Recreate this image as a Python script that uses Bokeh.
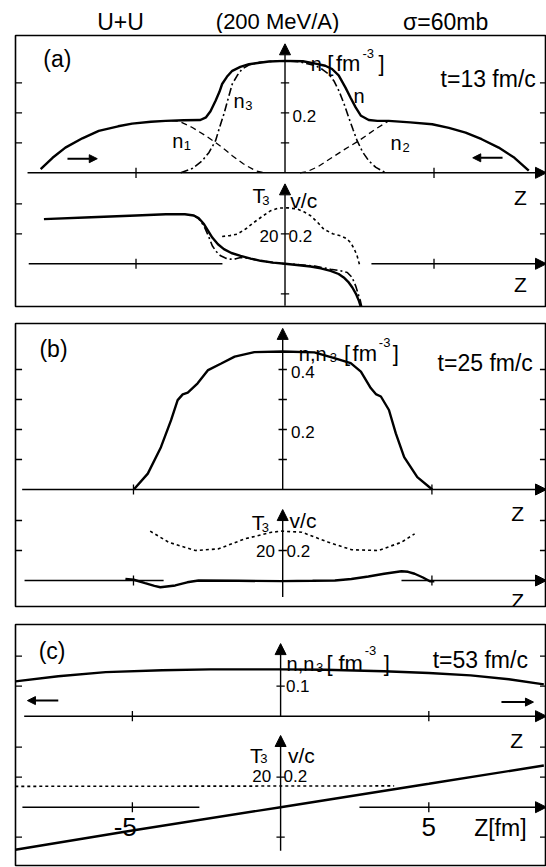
from bokeh.plotting import figure
from bokeh.models import Range1d, Label, Arrow, NormalHead
from bokeh.layouts import column
from bokeh.embed import file_html
from bokeh.resources import INLINE

FONT = "Liberation Sans"

# ---------------- data : panel (a)  t = 13 fm/c ----------------
za_n = [-8.2, -7.8, -7.37, -6.8, -6.25, -5.6, -5.13, -4.5, -4.01, -3.4, -2.84, -2.65, -2.5,
        -2.33, -2.2, -2.11, -1.95, -1.77, -1.5, -1.21, -0.54, 0.0, 0.6, 1.02, 1.35, 1.58, 1.8,
        2.03, 2.2, 2.37, 2.55, 2.81, 3.1, 3.48, 4.2, 4.94, 5.5, 6.06, 6.6, 7.17, 7.7, 8.18]
na_n = [0.012, 0.05, 0.084, 0.115, 0.14, 0.155, 0.164, 0.17, 0.173, 0.175, 0.176, 0.185, 0.205,
        0.24, 0.27, 0.296, 0.32, 0.34, 0.353, 0.362, 0.371, 0.373, 0.372, 0.364, 0.357, 0.346, 0.325,
        0.284, 0.25, 0.218, 0.19, 0.176, 0.173, 0.173, 0.168, 0.162, 0.15, 0.134, 0.112, 0.084, 0.05, 0.007]
za_n3 = [-3.5, -3.1, -2.78, -2.55, -2.33, -2.2, -2.05, -1.9, -1.77, -1.6, -1.44, -1.2, -0.88, -0.4,
         0.0, 0.5, 1.02, 1.25, 1.47, 1.65, 1.81, 1.98, 2.14, 2.28, 2.42, 2.6, 2.81, 3.05, 3.37]
na_n3 = [0.0, 0.015, 0.04, 0.068, 0.107, 0.15, 0.196, 0.25, 0.296, 0.325, 0.346, 0.36, 0.368, 0.372,
         0.373, 0.37, 0.357, 0.345, 0.329, 0.305, 0.273, 0.23, 0.184, 0.145, 0.107, 0.07, 0.04, 0.018, 0.0]
za_n1 = [-3.8, -3.56, -3.11, -2.7, -2.33, -2.0, -1.77, -1.4, -0.99, -0.7]
na_n1 = [0.174, 0.172, 0.151, 0.126, 0.101, 0.076, 0.057, 0.03, 0.007, 0.0]
za_n2 = [0.5, 0.74, 1.1, 1.58, 2.0, 2.48, 3.04, 3.48, 3.7]
na_n2 = [0.0, 0.004, 0.02, 0.051, 0.078, 0.107, 0.146, 0.173, 0.174]
za_v = [-8.09, -6.5, -5.0, -4.0, -3.36, -3.06, -2.9, -2.72, -2.58, -2.44, -2.25, -2.05, -1.8, -1.49,
        -1.15, -0.82, -0.4, 0.0, 0.4, 0.86, 1.2, 1.53, 1.8, 1.97, 2.12, 2.26, 2.38, 2.48, 2.55]
va_v = [0.298, 0.31, 0.322, 0.33, 0.33, 0.322, 0.305, 0.265, 0.22, 0.175, 0.13, 0.098, 0.072, 0.053,
        0.035, 0.02, 0.008, 0.0, -0.008, -0.018, -0.03, -0.047, -0.068, -0.091, -0.12, -0.158, -0.2, -0.247, -0.29]
za_v3 = [-3.06, -2.9, -2.72, -2.58, -2.44, -2.3, -2.16, -2.0, -1.83, -1.65, -1.49, -1.2, -0.82,
         -0.4, 0.0, 0.5, 1.0, 1.53, 1.85, 2.09, 2.25, 2.37, 2.47, 2.53, 2.58]
va_v3 = [0.322, 0.3, 0.253, 0.19, 0.12, 0.08, 0.053, 0.038, 0.031, 0.033, 0.042, 0.035, 0.02,
         0.008, 0.0, -0.006, -0.015, -0.036, -0.046, -0.058, -0.09, -0.147, -0.21, -0.247, -0.29]
za_T = [-2.11, -1.85, -1.6, -1.3, -1.05, -0.75, -0.49, -0.2, 0.1, 0.41, 0.65, 0.86, 1.1, 1.3,
        1.6, 1.86, 2.05, 2.2, 2.32, 2.42, 2.51]
Ta_T = [18.2, 18.8, 19.8, 23.5, 27.5, 31.8, 35.3, 37.2, 37.3, 36.5, 34.5, 32.0, 27.5, 23.1,
        20.0, 18.7, 17.0, 14.2, 10.0, 5.3, -1.3]

# ---------------- data : panel (b)  t = 25 fm/c ----------------
zb_n = [-4.99, -4.52, -4.08, -3.74, -3.52, -3.35, -3.18, -2.85, -2.5, -2.06, -1.61, -0.95, 0.0,
        1.06, 1.73, 2.28, 2.62, 2.95, 3.12, 3.29, 3.56, 3.79, 4.07, 4.51, 5.01]
nb_n = [0.0, 0.053, 0.141, 0.231, 0.298, 0.317, 0.323, 0.354, 0.398, 0.42, 0.443, 0.458, 0.46,
        0.457, 0.438, 0.421, 0.393, 0.338, 0.318, 0.31, 0.265, 0.187, 0.108, 0.041, 0.0]
zb_v = [-5.27, -4.99, -4.61, -4.3, -4.1, -3.6, -3.2, -2.82, -1.5, -0.03, 1.0, 1.75, 2.3, 2.87,
        3.4, 3.98, 4.2, 4.42, 4.7, 4.93, 5.08]
vb_v = [0.011, 0.005, -0.018, -0.036, -0.045, -0.033, -0.012, 0.0, -0.002, -0.004, -0.002, 0.0,
        0.01, 0.027, 0.045, 0.062, 0.058, 0.045, 0.02, -0.005, -0.005]
zb_T = [-4.44, -3.82, -2.93, -2.15, -1.26, -0.37, -0.03, 0.64, 1.53, 2.31, 3.2, 3.98, 4.42]
Tb_T = [32.9, 25.5, 20.0, 21.1, 27.8, 32.2, 32.9, 32.2, 25.5, 20.5, 20.0, 25.5, 31.1]

# ---------------- data : panel (c)  t = 53 fm/c ----------------
zc_n = [-8.95, -7.5, -5.9, -4.0, -2.38, 0.0, 1.5, 3.48, 5.0, 6.41, 7.7, 8.88]
nc_n = [0.116, 0.133, 0.147, 0.153, 0.156, 0.156, 0.155, 0.150, 0.144, 0.136, 0.123, 0.106]
zc_v = [-8.95, -5.0, 0.0, 5.0, 8.88]
vc_v = [-0.284, -0.155, 0.0, 0.156, 0.278]
zc_T = [-8.95, -4.0, 0.0, 3.83]
Tc_T = [13.9, 14.0, 14.1, 14.2]

Z_TICKS = [-5, 5]


def lab(p, text, x, y, size, align="left", base="middle", rng="default"):
    p.add_layout(Label(x=x, y=y, text=text, text_font=FONT, text_font_size=f"{size}px",
                       text_align=align, text_baseline=base, text_color="black",
                       y_range_name=rng))


def arrow(p, x0, y0, x1, y1, rng="default", size=11, lw=1.4):
    p.add_layout(Arrow(end=NormalHead(size=size, fill_color="black", line_color="black", line_width=1),
                       x_start=x0, y_start=y0, x_end=x1, y_end=y1, line_width=lw,
                       line_color="black", y_range_name=rng))


def panel(height, bleft, btop, bbot, xr, dr, vr):
    p = figure(width=546, height=height, output_backend="svg", toolbar_location=None,
               x_range=Range1d(xr[0], xr[1]), y_range=Range1d(dr[0], dr[1]),
               x_axis_location=None, y_axis_location=None,
               min_border_left=bleft, min_border_right=0, min_border_top=btop, min_border_bottom=bbot)
    p.extra_y_ranges = {"vel": Range1d(vr[0], vr[1]), "T": Range1d(vr[0] * 100, vr[1] * 100)}
    p.grid.visible = False
    p.outline_line_color = "black"
    p.outline_line_width = 1.6
    p.background_fill_color = "white"
    p.border_fill_color = "white"
    return p


def axes(p, xr, up_start, up_tip, low_left, low_right, v_tip, v_bot,
         dens_c, vel_c, dens_e, vel_e):
    arrow(p, up_start, 0, xr[1], 0)
    arrow(p, 0, 0, 0, up_tip)
    p.segment(x0=Z_TICKS, y0=[-0.017] * 2, x1=Z_TICKS, y1=[0.017] * 2, line_color="black", line_width=1.3)
    p.segment(x0=[-0.14] * len(dens_c), y0=dens_c, x1=[0.14] * len(dens_c), y1=dens_c,
              line_color="black", line_width=1.3)
    p.segment(x0=[low_left[0]], y0=[0], x1=[low_left[1]], y1=[0], line_color="black",
              line_width=1.4, y_range_name="vel")
    arrow(p, low_right, 0, xr[1], 0, rng="vel")
    arrow(p, 0, v_bot, 0, v_tip, rng="vel")
    p.segment(x0=Z_TICKS, y0=[-0.033] * 2, x1=Z_TICKS, y1=[0.033] * 2, line_color="black",
              line_width=1.3, y_range_name="vel")
    p.segment(x0=[-0.14] * len(vel_c), y0=vel_c, x1=[0.14] * len(vel_c), y1=vel_c,
              line_color="black", line_width=1.3, y_range_name="vel")
    for edge, d in ((xr[0], 0.22), (xr[1], -0.22)):
        p.segment(x0=[edge] * len(dens_e), y0=dens_e, x1=[edge + d] * len(dens_e), y1=dens_e,
                  line_color="black", line_width=1.3)
        p.segment(x0=[edge] * len(vel_e), y0=vel_e, x1=[edge + d] * len(vel_e), y1=vel_e,
                  line_color="black", line_width=1.3, y_range_name="vel")


def fm_label(p, xs, base, sup_base):
    lab(p, "[", xs[0], base, 22, base="alphabetic")
    lab(p, "fm", xs[1], base, 22, base="alphabetic")
    lab(p, "-3", xs[2], sup_base, 13, base="alphabetic")
    lab(p, "]", xs[3], base, 22, base="alphabetic")


SOLID = dict(line_color="black", line_width=2.4)
DASHDOT = dict(line_color="black", line_width=1.6, line_dash="8 3 2 3")
LONGDASH = dict(line_color="black", line_width=1.3, line_dash="6 4")
SHORTDASH = dict(line_color="black", line_width=1.6, line_dash="3 3")

# ---------------- title row ----------------
xa = (-9.044, 8.775)
pt = figure(width=546, height=33, output_backend="svg", toolbar_location=None,
            x_range=Range1d(xa[0], xa[1]), y_range=Range1d(33, 0),
            x_axis_location=None, y_axis_location=None,
            min_border_left=15, min_border_right=0, min_border_top=0, min_border_bottom=0)
pt.grid.visible = False
pt.outline_line_color = None
lab(pt, "U+U", -5.52, 21, 23, "center")
lab(pt, "(200 MeV/A)", -0.25, 21, 22, "center")
lab(pt, "σ=60mb", 5.39, 21, 23, "center")

# ---------------- panel (a) ----------------
pa = panel(281, 15, 2, 8, xa, (-0.4457, 0.4577), (-0.2847, 1.522))
axes(pa, xa, -8.64, 0.43, (-8.6, -2.1), 2.9, 0.533, -0.28,
     [0.1, 0.2, 0.3], [0.2, -0.2], [0.1, 0.2, 0.3], [0.2, 0.4])
pa.line(za_n, na_n, **SOLID)
pa.line(za_n3, na_n3, **DASHDOT)
pa.line(za_n1, na_n1, **LONGDASH)
pa.line(za_n2, na_n2, **LONGDASH)
pa.line(za_v, va_v, y_range_name="vel", **SOLID)
pa.line(za_v3, va_v3, y_range_name="vel", **DASHDOT)
pa.line(za_T, Ta_T, y_range_name="T", **SHORTDASH)
arrow(pa, -7.3, 0.047, -6.3, 0.047, size=8, lw=2)
arrow(pa, 7.3, 0.05, 6.3, 0.05, size=8, lw=2)
lab(pa, "(a)", -7.64, 0.378, 23, "center")
lab(pa, "n", 0.86, 0.363, 20, base="alphabetic")
fm_label(pa, [1.42, 1.71, 2.6, 3.14], 0.363, 0.397)
lab(pa, "t=13 fm/c", 5.22, 0.313, 23, base="alphabetic")
lab(pa, "n", -1.73, 0.24, 20, base="alphabetic")
lab(pa, "3", -1.33, 0.223, 13, base="alphabetic")
lab(pa, "n", 2.3, 0.257, 20, base="alphabetic")
lab(pa, "n", -3.78, 0.107, 20, base="alphabetic")
lab(pa, "1", -3.4, 0.09, 13, base="alphabetic")
lab(pa, "n", 3.54, 0.1, 20, base="alphabetic")
lab(pa, "2", 3.94, 0.083, 13, base="alphabetic")
lab(pa, "0.2", 0.25, 0.19, 17)
lab(pa, "Z", 7.9, 0.44, 21, "center", rng="vel")
lab(pa, "Z", 7.9, -0.14, 21, "center", rng="vel")
lab(pa, "T", -1.09, 0.453, 21, base="alphabetic", rng="vel")
lab(pa, "3", -0.76, 0.42, 13, base="alphabetic", rng="vel")
lab(pa, "v/c", 0.18, 0.42, 21, base="alphabetic", rng="vel")
lab(pa, "20", -0.22, 0.187, 17, "right", rng="vel")
lab(pa, "0.2", 0.12, 0.187, 17, rng="vel")

# ---------------- panel (b) ----------------
xb = (-8.953, 8.839)
pb = panel(301, 14, 9, 9, xb, (-0.39, 0.5533), (-0.1733, 1.7133))
axes(pb, xb, -8.73, 0.537, (-8.65, -3.99), 3.98, 0.473, -0.11,
     [0.1, 0.2, 0.3, 0.4], [0.2], [0.1, 0.2, 0.3, 0.4], [0.2, 0.4])
pb.line(zb_n, nb_n, **SOLID)
pb.line(zb_v, vb_v, y_range_name="vel", **SOLID)
pb.line(zb_T, Tb_T, y_range_name="T", **SHORTDASH)
lab(pb, "(b)", -7.68, 0.468, 23, "center")
lab(pb, "n,n", 0.54, 0.452, 20, base="alphabetic")
lab(pb, "3", 1.58, 0.441, 13, base="alphabetic")
fm_label(pb, [2.05, 2.34, 3.22, 3.69], 0.452, 0.491)
lab(pb, "t=25 fm/c", 5.19, 0.423, 23, base="alphabetic")
lab(pb, "0.4", 0.28, 0.39, 17)
lab(pb, "0.2", 0.28, 0.193, 17)
lab(pb, "Z", 7.87, 0.447, 21, "center", rng="vel")
lab(pb, "Z", 7.87, -0.133, 21, "center", rng="vel")
lab(pb, "T", -1.04, 0.387, 21, base="alphabetic", rng="vel")
lab(pb, "3", -0.7, 0.353, 13, base="alphabetic", rng="vel")
lab(pb, "v/c", 0.23, 0.4, 21, base="alphabetic", rng="vel")
lab(pb, "20", -0.26, 0.2, 17, "right", rng="vel")
lab(pb, "0.2", 0.13, 0.2, 17, rng="vel")

# ---------------- panel (c) ----------------
xc = (-8.943, 8.970)
pc = panel(252, 14, 9, 2, xc, (-0.4977, 0.3057), (-0.3887, 1.218))
axes(pc, xc, -8.65, 0.242, (-8.71, -2.74), 2.66, 0.478, -0.29,
     [0.1], [0.2, -0.2], [0.1, 0.2], [0.2, 0.4, -0.2])
pc.line(zc_n, nc_n, **SOLID)
pc.line(zc_v, vc_v, y_range_name="vel", **SOLID)
pc.line(zc_T, Tc_T, y_range_name="T", **SHORTDASH)
arrow(pc, -7.5, 0.052, -8.54, 0.052, size=8, lw=2)
arrow(pc, 7.45, 0.047, 8.53, 0.047, size=8, lw=2)
lab(pc, "(c)", -7.71, 0.219, 23, "center")
lab(pc, "n,n", 0.2, 0.175, 20, base="alphabetic")
lab(pc, "3", 1.19, 0.163, 13, base="alphabetic")
fm_label(pc, [1.55, 1.95, 2.84, 3.48], 0.175, 0.219)
lab(pc, "t=53 fm/c", 5.13, 0.186, 23, base="alphabetic")
lab(pc, "0.1", 0.18, 0.1, 17)
lab(pc, "Z", 7.96, 0.445, 21, "center", rng="vel")
lab(pc, "T", -1.03, 0.345, 21, base="alphabetic", rng="vel")
lab(pc, "3", -0.69, 0.325, 13, base="alphabetic", rng="vel")
lab(pc, "v/c", 0.25, 0.345, 21, base="alphabetic", rng="vel")
lab(pc, "20", -0.32, 0.211, 17, "right", rng="vel")
lab(pc, "0.2", 0.1, 0.211, 17, rng="vel")
lab(pc, "-5", -5.24, -0.129, 26, "center", rng="vel")
lab(pc, "5", 5.0, -0.129, 26, "center", rng="vel")
lab(pc, "Z[fm]", 6.53, -0.14, 23, rng="vel")

layout = column(pt, pa, pb, pc, spacing=0)
open("out.html", "w").write(file_html(layout, INLINE))
